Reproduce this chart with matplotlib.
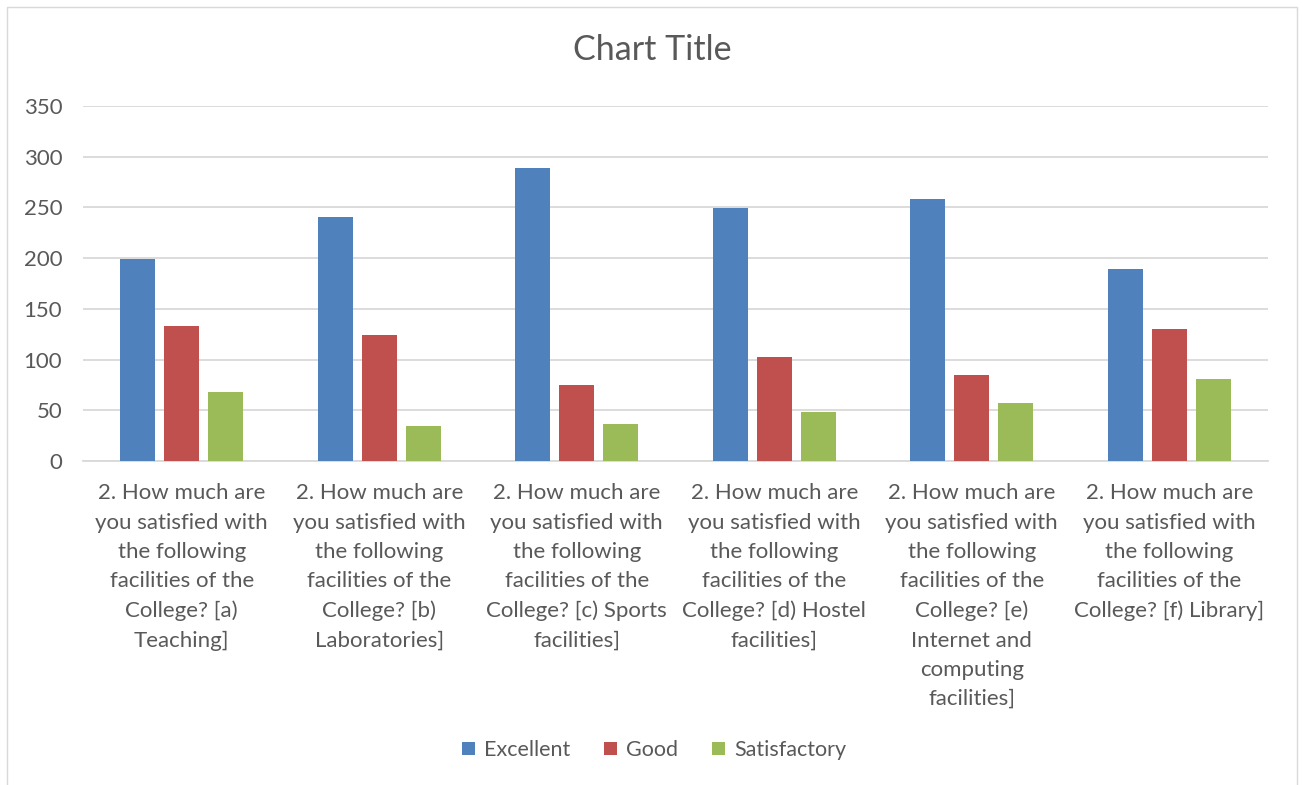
import numpy as np
import matplotlib
matplotlib.use("Agg")
import matplotlib.pyplot as plt
from matplotlib.patches import Rectangle

# -----------------------------------------------------------------------------
# Data
# -----------------------------------------------------------------------------
stem = "2. How much are\nyou satisfied with\nthe following\nfacilities of the\n"
categories = [
    stem + "College? [a)\nTeaching]",
    stem + "College? [b)\nLaboratories]",
    stem + "College? [c) Sports\nfacilities]",
    stem + "College? [d) Hostel\nfacilities]",
    stem + "College? [e)\nInternet and\ncomputing\nfacilities]",
    stem + "College? [f) Library]",
]
excellent    = [199, 241, 289, 249, 258, 189]
good         = [133, 124, 75, 103, 85, 130]
satisfactory = [68, 35, 36, 48, 57, 81]

series_names = ["Excellent", "Good", "Satisfactory"]
colors = ["#4F81BD", "#C0504D", "#9BBB59"]
yticks = [0, 50, 100, 150, 200, 250, 300, 350]

# -----------------------------------------------------------------------------
# Style
# -----------------------------------------------------------------------------
text_col = "#595959"
grid_col = "#D9D9D9"
plt.rcParams.update({
    "font.family": ["Lato", "DejaVu Sans"],
    "font.size": 16,
    "text.color": text_col,
    "xtick.color": text_col,
    "ytick.color": text_col,
})

W, H, DPI = 1303, 785, 100
fig = plt.figure(figsize=(W / DPI, H / DPI), dpi=DPI)
ax = fig.add_axes([83 / W, 1 - 461 / H, (1268 - 83) / W, (461 - 106) / H])

# chart-area border
fig.patches.append(Rectangle((7 / W, -0.01), (1297 - 7) / W, 1 - 7 / H + 0.01,
                             transform=fig.transFigure, fill=False,
                             edgecolor=grid_col, linewidth=1.0))

x = np.arange(len(categories))
bw = 0.177
step = 0.223
for j, (vals, name, c) in enumerate(zip([excellent, good, satisfactory], series_names, colors)):
    ax.bar(x + (j - 1) * step, vals, width=bw, color=c, label=name, zorder=3)

ax.set_xlim(-0.5, len(categories) - 0.5)
ax.set_ylim(0, 350)
ax.set_yticks(yticks)
ax.set_xticks(x)
ax.set_xticklabels(categories, linespacing=1.58, fontsize=16)
ax.tick_params(axis="both", length=0, labelsize=16)
ax.tick_params(axis="y", pad=15)
ax.tick_params(axis="x", pad=16)
for lab in ax.get_xticklabels():
    lab.set_verticalalignment("top")

ax.grid(axis="y", color=grid_col, linewidth=1.3, zorder=0)
for s in ["top", "right", "left"]:
    ax.spines[s].set_visible(False)
ax.spines["bottom"].set_color(grid_col)
ax.spines["bottom"].set_linewidth(1.3)

fig.text(652 / W, 1 - 50 / H, "Chart Title", ha="center", va="center",
         fontsize=24.5, color=text_col)

handles, labels = ax.get_legend_handles_labels()
fig.legend(handles, labels, loc="center", bbox_to_anchor=(654 / W, 1 - 750 / H),
           ncol=3, frameon=False, fontsize=15.5, handlelength=0.6,
           handleheight=0.6, handletextpad=0.4, columnspacing=1.6)

fig.savefig("out.png", dpi=DPI)
